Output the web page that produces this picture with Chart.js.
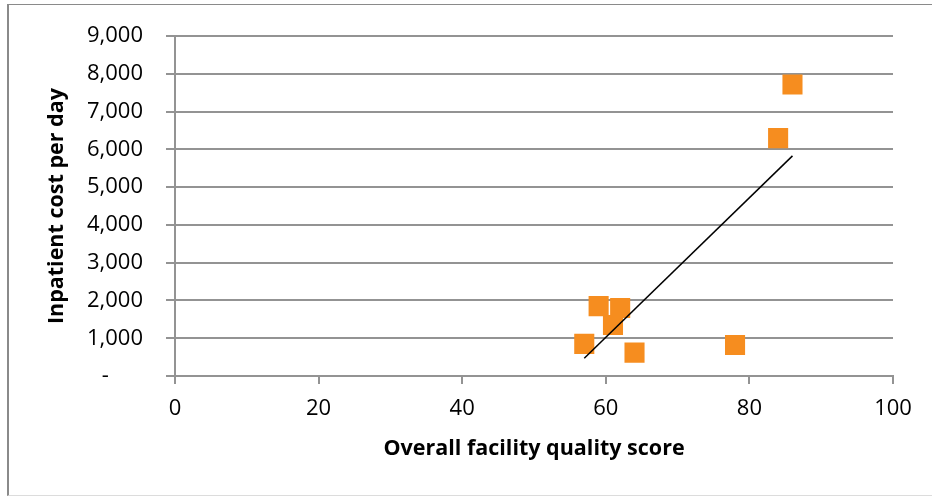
<!DOCTYPE html>
<html>
<head>
<meta charset="utf-8">
<script src="https://cdn.jsdelivr.net/npm/chart.js@4/dist/chart.umd.min.js"></script>
<style>
  html, body { margin: 0; padding: 0; background: #fff; }
  #wrap { position: relative; width: 932px; height: 496px; overflow: hidden; }
  #frame {
    position: absolute; left: 7px; top: 4px; width: 940px; height: 490px;
    border-top: 1px solid #8a8a8a; border-left: 2px solid #8a8a8a;
    border-bottom: 1px solid #dcdcdc; pointer-events: none;
  }
  canvas { position: absolute; left: 0; top: 0; }
</style>
</head>
<body>
<div id="wrap">
  <canvas id="chart" width="932" height="496"></canvas>
  <div id="frame"></div>
</div>
<script>
// Facility quality score vs. inpatient cost per day
const qualityScores = [57, 59, 61, 62, 64, 78, 84, 86];
const costPerDay = [850, 1850, 1350, 1800, 620, 820, 6300, 7720];
const xTicks = [0, 20, 40, 60, 80, 100];
const yTicks = [0, 1000, 2000, 3000, 4000, 5000, 6000, 7000, 8000, 9000];

// Least-squares linear trendline over the observed range
function linearFit(xs, ys) {
  const n = xs.length;
  const mx = xs.reduce((a, b) => a + b, 0) / n;
  const my = ys.reduce((a, b) => a + b, 0) / n;
  let sxy = 0, sxx = 0;
  for (let i = 0; i < n; i++) {
    sxy += (xs[i] - mx) * (ys[i] - my);
    sxx += (xs[i] - mx) * (xs[i] - mx);
  }
  const slope = sxy / sxx;
  return x => my + slope * (x - mx);
}
const fit = linearFit(qualityScores, costPerDay);
const xMin = Math.min(...qualityScores), xMax = Math.max(...qualityScores);
const trendPoints = [{ x: xMin, y: fit(xMin) }, { x: xMax, y: fit(xMax) }];

const points = qualityScores.map((x, i) => ({ x, y: costPerDay[i] }));

const FONT = "'Open Sans', Lato, sans-serif";
const GRID = '#939393';
const PLOT = { left: 175, right: 893, top: 33, bottom: 376 };

new Chart(document.getElementById('chart'), {
  type: 'scatter',
  data: {
    datasets: [
      {
        label: 'Facilities',
        data: points,
        pointStyle: 'rect',
        pointRadius: 14.2,
        pointHoverRadius: 14.2,
        backgroundColor: '#F68D1F',
        borderColor: '#F68D1F',
        pointBorderWidth: 0,
        order: 2
      },
      {
        type: 'line',
        label: 'Trend',
        data: trendPoints,
        borderColor: '#000',
        borderWidth: 1.5,
        pointRadius: 0,
        fill: false,
        order: 1
      }
    ]
  },
  options: {
    responsive: false,
    animation: false,
    layout: { padding: { left: 0, top: PLOT.top, right: 932 - PLOT.right, bottom: 0 } },
    plugins: { legend: { display: false }, tooltip: { enabled: false } },
    scales: {
      x: {
        type: 'linear',
        min: 0, max: 100,
        afterBuildTicks: s => { s.ticks = xTicks.map(v => ({ value: v })); },
        afterFit: s => { s.height = 496 - PLOT.bottom; },
        border: { display: true, color: GRID, width: 2 },
        grid: { drawOnChartArea: false, drawTicks: true, tickLength: 8, color: GRID, lineWidth: 2 },
        ticks: { color: '#000', font: { family: FONT, size: 22 }, padding: 12 },
        title: {
          display: true, text: 'Overall facility quality score', color: '#000',
          font: { family: FONT, size: 21.5, weight: 'bold' },
          padding: { top: 0, bottom: 34 }
        }
      },
      y: {
        type: 'linear',
        min: 0, max: 9000,
        afterBuildTicks: s => { s.ticks = yTicks.map(v => ({ value: v })); },
        afterFit: s => { s.width = PLOT.left; },
        border: { display: true, color: GRID, width: 2 },
        grid: { drawTicks: true, tickLength: 9, color: GRID, lineWidth: 2 },
        ticks: {
          color: '#000', font: { family: FONT, size: 22 }, padding: 23,
          callback: v => v === 0 ? '-      ' : v.toLocaleString('en-US')
        },
        title: {
          display: true, text: 'Inpatient cost per day', color: '#000',
          font: { family: FONT, size: 21.5, weight: 'bold' },
          padding: { top: 44, bottom: 0 }
        }
      }
    }
  }
});
</script>
</body>
</html>
